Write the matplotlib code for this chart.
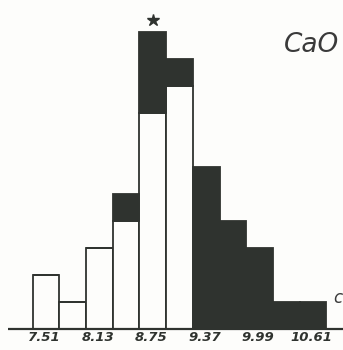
import numpy as np
import matplotlib.pyplot as plt

# bin centres (wt.% CaO) and counts per bin
bin_centers = [7.51, 7.82, 8.13, 8.44, 8.75, 9.06, 9.37, 9.68, 9.99, 10.30, 10.61]
open_counts = [2, 1, 3, 4, 8, 9, 0, 0, 0, 0, 0]
filled_counts = [0, 0, 0, 1, 3, 1, 6, 4, 3, 1, 1]
tick_values = [7.51, 8.13, 8.75, 9.37, 9.99, 10.61]
tick_labels = ["7.51", "8.13", "8.75", "9.37", "9.99", "10.61"]
bin_width = 0.31

ink = "#2f332f"
paper = "#fdfdfb"

fig = plt.figure(figsize=(3.43, 3.5), dpi=100, facecolor=paper)
ax = fig.add_axes([0, 0, 1, 1])
ax.set_facecolor(paper)

x = np.array(bin_centers)
opens = np.array(open_counts)
filled = np.array(filled_counts)

ax.bar(x, opens, width=bin_width, color=paper, edgecolor=ink, linewidth=1.3)
ax.bar(x, filled, width=bin_width, bottom=opens, color=ink, edgecolor=ink, linewidth=1.3)

# base line
ax.plot([7.07, 11.2], [0, 0], color=ink, lw=1.6, solid_capstyle="butt")

for v, lab in zip(tick_values, tick_labels):
    ax.text(v - 0.02, -0.08, lab, ha="center", va="top", fontsize=9.5, style="italic",
            color=ink, fontweight="bold")

peak = int(np.argmax(opens + filled))
ax.plot(bin_centers[peak], (opens + filled)[peak] + 0.45, marker="*", ms=9,
        color=ink, mec=ink)

ax.text(10.27, 10.5, "CaO", fontsize=19, style="italic", color="#3a3a3a",
        ha="left", va="center")
ax.text(10.84, 1.15, "c", fontsize=12, style="italic", color="#3a3a3a",
        ha="left", va="center")

ax.set_xlim(6.976, 10.959)
ax.set_ylim(-0.778, 12.185)
ax.axis("off")

fig.savefig("out.png", dpi=100, facecolor=paper)
